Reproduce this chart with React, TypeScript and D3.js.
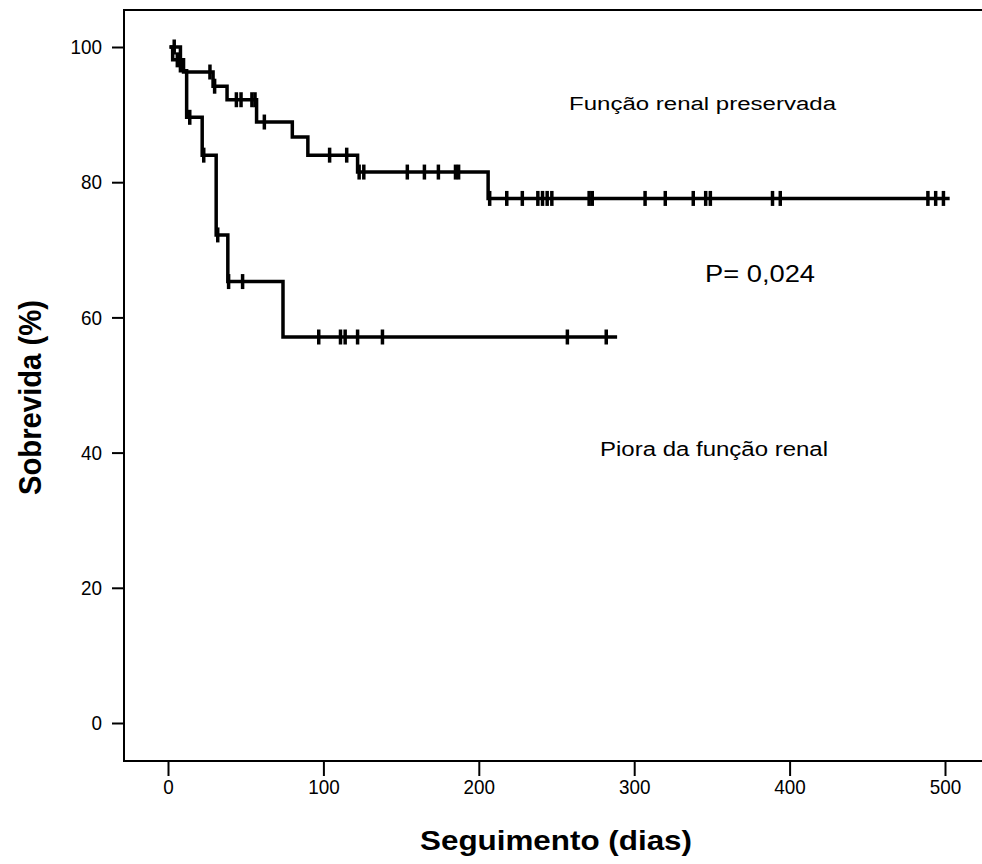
import React, { useEffect, useRef } from "react";
import * as d3 from "d3";

// Função renal preservada
const preservedStartDay = 1;
const preservedEventDays = [3, 10, 29, 38, 57, 80, 90, 122, 206];
const preservedSurvival = [98.1, 96.3, 94.2, 92.2, 88.9, 86.7, 84.0, 81.5, 77.6];
const preservedCensorDays = [
  6, 27, 30, 44, 47, 54, 56, 62, 104, 115, 123, 126, 154, 165, 174, 185, 187,
  207, 218, 228, 238, 241, 244, 247, 271, 273, 307, 320, 338, 346, 349, 389,
  394, 489, 494, 499,
];
const preservedLastDay = 503;

// Piora da função renal
const worseStartDay = 1;
const worseEventDays = [8, 12, 22, 31, 38.5, 74];
const worseSurvival = [96.5, 89.6, 84.0, 72.2, 65.3, 57.1];
const worseCensorDays = [4, 14, 23, 32, 39, 48, 97, 111, 114, 122, 138, 257, 282];
const worseLastDay = 289;

const xTicks = [0, 100, 200, 300, 400, 500];
const yTicks = [0, 20, 40, 60, 80, 100];

const xTitle = "Seguimento (dias)";
const yTitle = "Sobrevida (%)";
const labelPreserved = "Função renal preservada";
const labelWorse = "Piora da função renal";
const pValue = "P= 0,024";

const font = "'Liberation Sans', Arial, sans-serif";

const App = () => {
  const chartRef = useRef(null);

  useEffect(() => {
    const width = 982;
    const height = 864;
    const left = 124;
    const top = 10;
    const bottom = 761;

    d3.select(chartRef.current).select("svg").remove();

    const svg = d3
      .select(chartRef.current)
      .append("svg")
      .attr("width", width)
      .attr("height", height)
      .style("position", "absolute")
      .style("left", "0px")
      .style("top", "0px")
      .style("background", "white");

    const x = d3.scaleLinear().domain([0, 500]).range([168, 945]);
    const y = d3.scaleLinear().domain([0, 100]).range([723, 47]);

    // frame
    svg
      .append("path")
      .attr("d", `M${width},${top}H${left}V${bottom}H${width}`)
      .attr("fill", "none")
      .attr("stroke", "#000")
      .attr("stroke-width", 2);

    // narrow tick labels, like the original
    const styleTicks = (g) => {
      g.select(".domain").remove();
      g.selectAll("line").attr("stroke", "#000").attr("stroke-width", 2);
      g.selectAll("text")
        .attr("font-family", font)
        .attr("font-size", 21)
        .attr("fill", "#000")
        .attr("textLength", (d) => String(d).length * 10.5)
        .attr("lengthAdjust", "spacingAndGlyphs");
    };

    // Y-axis
    svg
      .append("g")
      .attr("transform", `translate(${left},0)`)
      .call(d3.axisLeft(y).tickValues(yTicks).tickSize(12).tickPadding(10))
      .call(styleTicks);

    // X-axis
    svg
      .append("g")
      .attr("transform", `translate(0,${bottom})`)
      .call(d3.axisBottom(x).tickValues(xTicks).tickSize(15).tickPadding(3))
      .call(styleTicks);

    const line = d3
      .line()
      .x((d) => x(d[0]))
      .y((d) => y(d[1]))
      .curve(d3.curveStepAfter);

    const drawCurve = (start, days, surv, censors, last) => {
      const pts = [[start, 100]];
      days.forEach((d, i) => pts.push([d, surv[i]]));
      pts.push([last, surv[surv.length - 1]]);

      svg
        .append("path")
        .datum(pts)
        .attr("fill", "none")
        .attr("stroke", "#000")
        .attr("stroke-width", 3.5)
        .attr("d", line);

      const survAt = (t) => {
        let s = 100;
        days.forEach((d, i) => {
          if (d <= t) s = surv[i];
        });
        return s;
      };

      svg
        .selectAll(null)
        .data(censors)
        .enter()
        .append("line")
        .attr("x1", (d) => x(d))
        .attr("x2", (d) => x(d))
        .attr("y1", (d) => y(survAt(d)) - 7.5)
        .attr("y2", (d) => y(survAt(d)) + 7.5)
        .attr("stroke", "#000")
        .attr("stroke-width", 3.5);
    };

    drawCurve(preservedStartDay, preservedEventDays, preservedSurvival, preservedCensorDays, preservedLastDay);
    drawCurve(worseStartDay, worseEventDays, worseSurvival, worseCensorDays, worseLastDay);

    // annotations
    const addText = (txt, x0, y0, size, len, weight = "normal") =>
      svg
        .append("text")
        .attr("x", x0)
        .attr("y", y0)
        .attr("font-family", font)
        .attr("font-size", size)
        .attr("font-weight", weight)
        .attr("textLength", len)
        .attr("lengthAdjust", "spacingAndGlyphs")
        .attr("fill", "#000")
        .text(txt);

    addText(labelPreserved, 569, 110, 18, 267);
    addText(pValue, 705, 282, 23, 110);
    addText(labelWorse, 600, 456, 20, 228);

    // axis titles
    addText(xTitle, 420, 850, 28, 272, "bold");
    addText(yTitle, 0, 0, 31, 195, "bold").attr(
      "transform",
      "translate(41,495) rotate(-90)"
    );
  }, []);

  return <div ref={chartRef}></div>;
};

export default App;
